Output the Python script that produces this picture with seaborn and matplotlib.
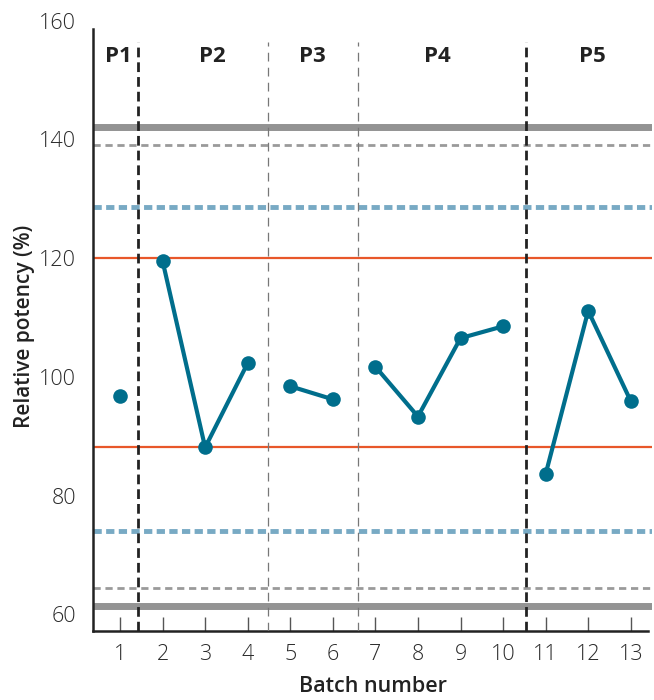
import matplotlib
matplotlib.use("Agg")
import matplotlib.pyplot as plt
import seaborn as sns
import pandas as pd

# Batch results
batches = [1, 2, 3, 4, 5, 6, 7, 8, 9, 10, 11, 12, 13]
potency = [96.7, 119.5, 88.1, 102.3, 98.4, 96.2, 101.7, 93.3, 106.5, 108.5, 83.6, 111.1, 95.9]
period = ["P1", "P2", "P2", "P2", "P3", "P3", "P4", "P4", "P4", "P4", "P5", "P5", "P5"]

# Period labels and boundaries
period_names = ["P1", "P2", "P3", "P4", "P5"]
period_label_x = [0.95, 3.16, 5.52, 8.46, 12.1]
major_breaks = [1.43, 10.54]
minor_breaks = [4.47, 6.58]

# Limit levels
spec_limits = [142.0, 61.4]
spec_inner = [139.1, 64.4]
control_limits = [128.6, 74.0]
action_limits = [120.0, 88.2]

y_ticks = [60, 80, 100, 120, 140, 160]

df = pd.DataFrame({"batch": batches, "potency": potency, "period": period})

sns.set_style("white")
plt.rcParams["font.family"] = ["Open Sans", "DejaVu Sans"]

fig = plt.figure(figsize=(6.54, 7.0), dpi=100)
ax = fig.add_axes([0.1425, 0.0979, 0.997 - 0.1425, 0.9707 - 0.0979])

ax.set_xlim(0.37, 13.5)
ax.set_ylim(57.1, 160)

# Horizontal limit lines
for y in spec_limits:
    ax.axhline(y, color="#939393", lw=5, zorder=1)
for y in spec_inner:
    ax.axhline(y, color="#9a9a9a", lw=2, ls=(0, (2.6, 1.7)), zorder=1)
for y in control_limits:
    ax.axhline(y, color="#78aac4", lw=3.5, ls=(0, (1.7, 0.9)), zorder=1)
for y in action_limits:
    ax.axhline(y, color="#e8572a", lw=1.6, zorder=2)

# Period boundaries
for x in major_breaks:
    ax.plot([x, x], [57.1, 156.4], color="#222222", lw=2, ls=(0, (3.5, 1.8)), zorder=3)
for x in minor_breaks:
    ax.plot([x, x], [57.1, 156.4], color="#777777", lw=0.9, ls=(0, (7, 5)), zorder=3)

# Batch results, connected within each period
sns.lineplot(data=df, x="batch", y="potency", units="period", estimator=None,
             color="#006e8c", lw=3, marker="o", markersize=10.5, markeredgewidth=0,
             ax=ax, zorder=5, legend=False)

for name, x in zip(period_names, period_label_x):
    ax.text(x, 153.9, name, ha="center", va="center", fontsize=16,
            fontweight="bold", color="#222222")

ax.set_xticks(batches)
ax.set_xticklabels([str(b) for b in batches])
ax.set_yticks(y_ticks)
ax.tick_params(axis="x", bottom=True, direction="in", length=10, width=1, color="#555555",
               labelsize=15.5, labelcolor="#2a2a2a", pad=9)
ax.tick_params(axis="y", left=False, labelsize=15.5, labelcolor="#2a2a2a", pad=9)
for lab in ax.get_xticklabels() + ax.get_yticklabels():
    lab.set_fontweight("light")

ax.set_xlabel("Batch number", fontsize=15.5, fontweight="semibold", color="#222222", labelpad=8)
ax.set_ylabel("Relative potency (%)", fontsize=15, fontweight="semibold", color="#222222", labelpad=3)

for s in ["top", "right"]:
    ax.spines[s].set_visible(False)
ax.spines["left"].set_color("#222222")
ax.spines["left"].set_linewidth(1.8)
ax.spines["left"].set_bounds(57.1, 158.5)
ax.spines["bottom"].set_color("#222222")
ax.spines["bottom"].set_linewidth(1.8)
ax.spines["bottom"].set_bounds(0.37, 13.4)

fig.savefig("out.png", dpi=100)
